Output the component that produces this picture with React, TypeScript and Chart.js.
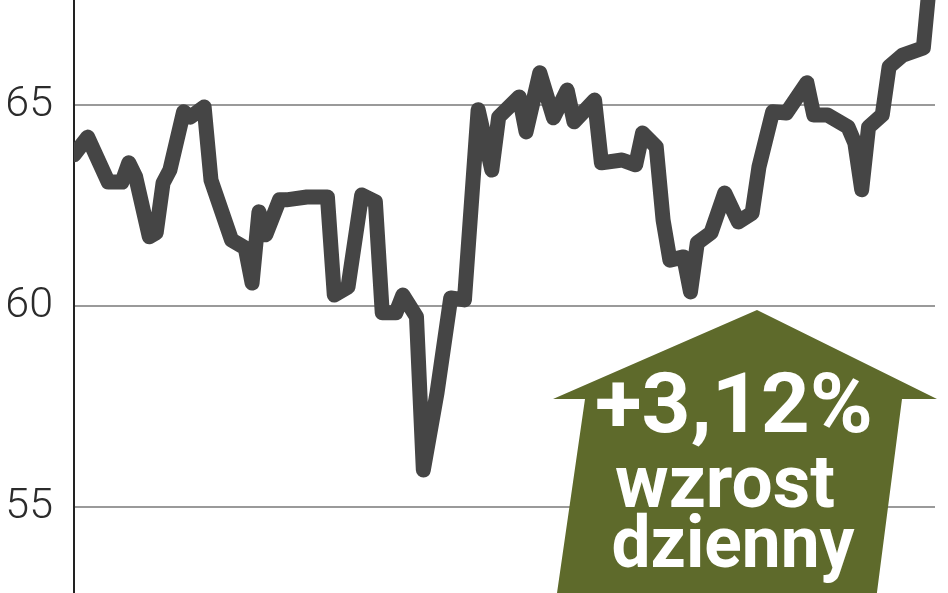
import { useEffect, useRef } from 'react';
import { Chart, registerables } from 'chart.js';

Chart.register(...registerables);

// trading-day index of each turning point of the quote line
const days = [
  0, 2, 5, 7, 8, 9, 11, 12, 13, 14, 16, 17, 19, 20, 23, 25, 26, 27, 28, 30,
  31, 34, 37, 38, 40, 42, 44, 45, 47, 48, 50, 51, 53, 55, 57, 59, 61, 62, 65, 66,
  68, 70, 72, 73, 76, 77, 80, 82, 83, 85, 86, 87, 89, 90, 91, 93, 95, 97, 99, 100,
  102, 104, 107, 108, 110, 113, 114, 115, 116, 118, 119, 121, 124, 125,
];

// quote (zl)
const values = [
  63.76, 64.2, 63.08, 63.08, 63.56, 63.21, 61.72, 61.82, 63.06, 63.38, 64.83, 64.7, 64.95, 63.13, 61.64, 61.44, 60.57, 62.34, 61.77, 62.64,
  62.64, 62.71, 62.71, 60.27, 60.47, 62.76, 62.59, 59.83, 59.83, 60.27, 59.73, 55.92, 57.84, 60.2, 60.15, 64.88, 63.38, 64.7, 65.2, 64.33,
  65.8, 64.68, 65.37, 64.58, 65.12, 63.56, 63.63, 63.51, 64.3, 63.96, 62.14, 61.14, 61.22, 60.35, 61.57, 61.82, 62.81, 62.09, 62.31, 63.46,
  64.83, 64.8, 65.55, 64.75, 64.75, 64.45, 64.05, 62.89, 64.45, 64.75, 65.95, 66.24, 66.42, 68.2,
];

const yTicks = [55, 60, 65];
const badgeLines = ['+3,12%', 'wzrost', 'dzienny'];

function fitText(ctx: CanvasRenderingContext2D, text: string, cx: number, baseline: number, size: number, width: number) {
  ctx.font = `bold ${size}px Roboto, 'Liberation Sans', sans-serif`;
  const w = ctx.measureText(text).width;
  ctx.save();
  ctx.translate(cx, baseline);
  ctx.scale(width / w, 1);
  ctx.textAlign = 'center';
  ctx.textBaseline = 'alphabetic';
  ctx.fillText(text, 0, 0);
  ctx.restore();
}

const arrowPlugin = {
  id: 'growthArrow',
  afterDraw(chart: Chart) {
    const ctx = chart.ctx;
    ctx.save();
    ctx.fillStyle = '#5e6a2b';
    ctx.beginPath();
    ctx.moveTo(757, 310);
    ctx.lineTo(937, 399);
    ctx.lineTo(902, 399);
    ctx.lineTo(876, 600);
    ctx.lineTo(556, 600);
    ctx.lineTo(585, 399);
    ctx.lineTo(553, 399);
    ctx.closePath();
    ctx.fill();

    ctx.fillStyle = '#ffffff';
    fitText(ctx, badgeLines[0], 734, 432, 84, 278);
    fitText(ctx, badgeLines[1], 725, 507, 74, 220);
    fitText(ctx, badgeLines[2], 733, 567, 72, 243);
    ctx.restore();
  },
};

export default function App() {
  const canvasRef = useRef<HTMLCanvasElement>(null);

  useEffect(() => {
    document.body.style.margin = '0';
    if (!canvasRef.current) return;

    const chart = new Chart(canvasRef.current, {
      type: 'line',
      data: {
        datasets: [{
          data: days.map((d, i) => ({ x: d, y: values[i] })),
          borderColor: '#454545',
          borderWidth: 15,
          borderJoinStyle: 'round',
          borderCapStyle: 'round',
          pointRadius: 0,
          tension: 0,
          fill: false,
          clip: { left: 0, top: 10, right: 10, bottom: 10 },
        }],
      },
      options: {
        responsive: true,
        maintainAspectRatio: false,
        animation: false,
        layout: { padding: { left: 0, top: 0, bottom: 0, right: 13 } },
        plugins: {
          legend: { display: false },
          tooltip: { enabled: false },
        },
        scales: {
          x: {
            type: 'linear',
            min: 0,
            max: 125.7,
            display: false,
          },
          y: {
            min: 52.86,
            max: 67.61,
            afterBuildTicks: (scale: any) => {
              scale.ticks = yTicks.map(v => ({ value: v }));
            },
            afterFit: (scale: any) => {
              scale.width = 74;
              scale.paddingTop = 0;
              scale.paddingBottom = 0;
            },
            grid: { color: '#9a9a9a', lineWidth: 2, drawTicks: false },
            border: { display: true, color: '#222222', width: 2 },
            ticks: {
              padding: 21,
              color: '#2b2b2b',
              font: { family: 'Roboto', size: 43, weight: 300 },
            },
          },
        },
      },
      plugins: [arrowPlugin],
    });

    return () => chart.destroy();
  }, []);

  return (
    <div style={{ position: 'relative', width: '948px', height: '593px', background: '#fff' }}>
      <canvas ref={canvasRef} />
    </div>
  );
}
